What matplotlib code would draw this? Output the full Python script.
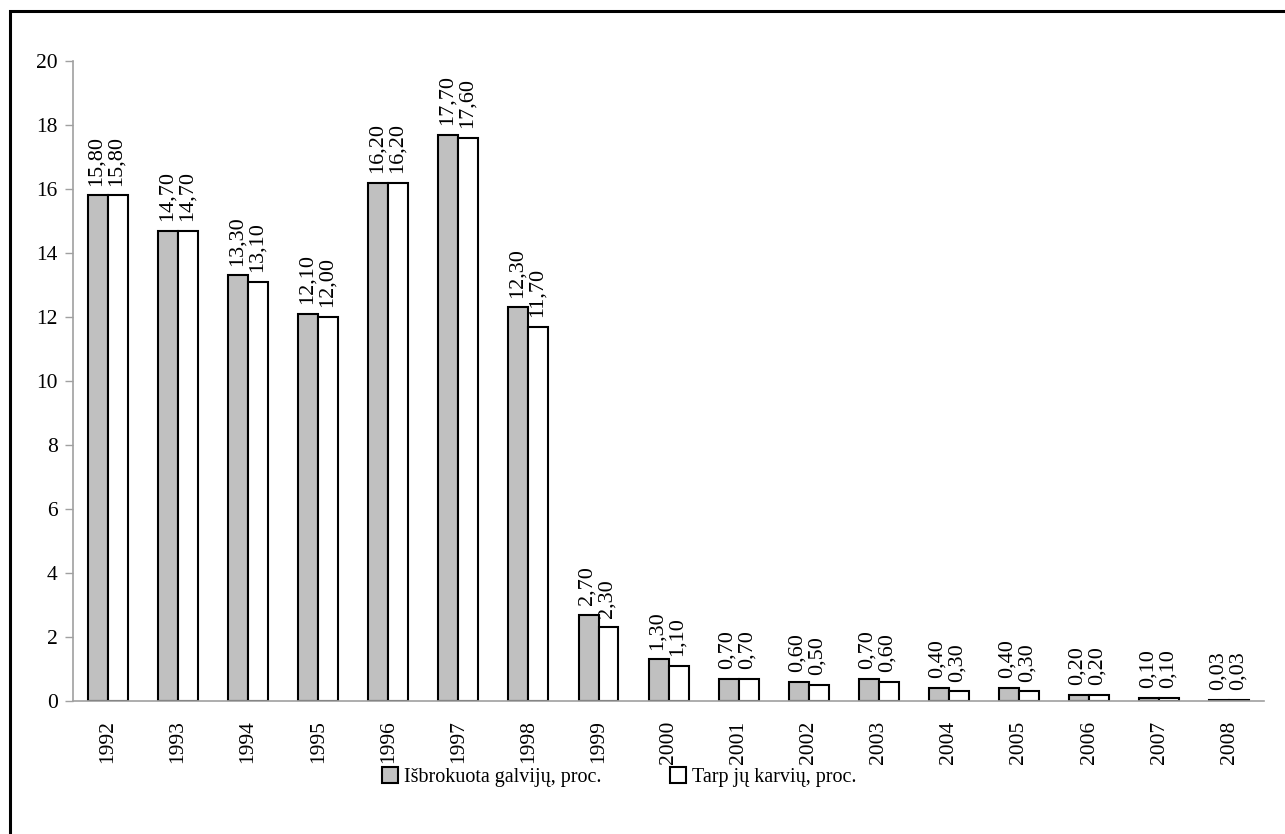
import matplotlib
matplotlib.use("Agg")
import matplotlib.pyplot as plt
import numpy as np
from matplotlib.patches import Rectangle

years = ["1992", "1993", "1994", "1995", "1996", "1997", "1998", "1999", "2000",
         "2001", "2002", "2003", "2004", "2005", "2006", "2007", "2008"]
culled = [15.8, 14.7, 13.3, 12.1, 16.2, 17.7, 12.3, 2.7, 1.3,
          0.7, 0.6, 0.7, 0.4, 0.4, 0.2, 0.1, 0.03]
cows = [15.8, 14.7, 13.1, 12.0, 16.2, 17.6, 11.7, 2.3, 1.1,
        0.7, 0.5, 0.6, 0.3, 0.3, 0.2, 0.1, 0.03]
series_names = ["Išbrokuota galvijų, proc.", "Tarp jų karvių, proc."]
y_ticks = [0, 2, 4, 6, 8, 10, 12, 14, 16, 18, 20]

plt.rcParams["font.family"] = ["Liberation Serif", "DejaVu Serif"]
plt.rcParams["font.size"] = 15.5

fig = plt.figure(figsize=(12.85, 8.34), dpi=100)
ax = fig.add_axes([0.0568, 0.1595, 0.927, 0.7674])

x = np.arange(len(years))
w = 0.285
b1 = ax.bar(x - w / 2, culled, width=w, color="#c0c0c0", edgecolor="black",
            linewidth=1.5, label=series_names[0])
b2 = ax.bar(x + w / 2, cows, width=w, color="white", edgecolor="black",
            linewidth=1.5, label=series_names[1])

def fmt(v):
    return f"{v:.2f}".replace(".", ",")

for bars, vals in ((b1, culled), (b2, cows)):
    for rect, v in zip(bars, vals):
        ax.annotate(fmt(v), (rect.get_x() + rect.get_width() / 2, v),
                    xytext=(-1, 7), textcoords="offset points",
                    rotation=90, ha="center", va="bottom", fontsize=16)

ax.set_xlim(-0.5, len(years) - 0.5)
ax.set_ylim(0, 20)
ax.set_yticks(y_ticks)
ax.set_xticks(x)
ax.set_xticklabels(years, rotation=90)
ax.tick_params(axis="y", length=6, color="#a0a0a0", width=1, pad=5)
ax.tick_params(axis="x", length=0, pad=14)
for s in ("top", "right"):
    ax.spines[s].set_visible(False)
for s in ("left", "bottom"):
    ax.spines[s].set_color("#a0a0a0")
    ax.spines[s].set_linewidth(1.2)

fig.legend(handles=[b1, b2], labels=series_names, loc="center",
           bbox_to_anchor=(0.482, 0.068), ncol=2, frameon=False,
           handlelength=0.8, handleheight=0.8, handletextpad=0.3,
           columnspacing=3.4, fontsize=14.5)

# outer frame
fig.add_artist(Rectangle((10 / 1285, -0.05), 1.2, 0.05 + (834 - 11) / 834,
                         transform=fig.transFigure, fill=False,
                         edgecolor="black", linewidth=2.2))

fig.savefig("out.png", dpi=100)
